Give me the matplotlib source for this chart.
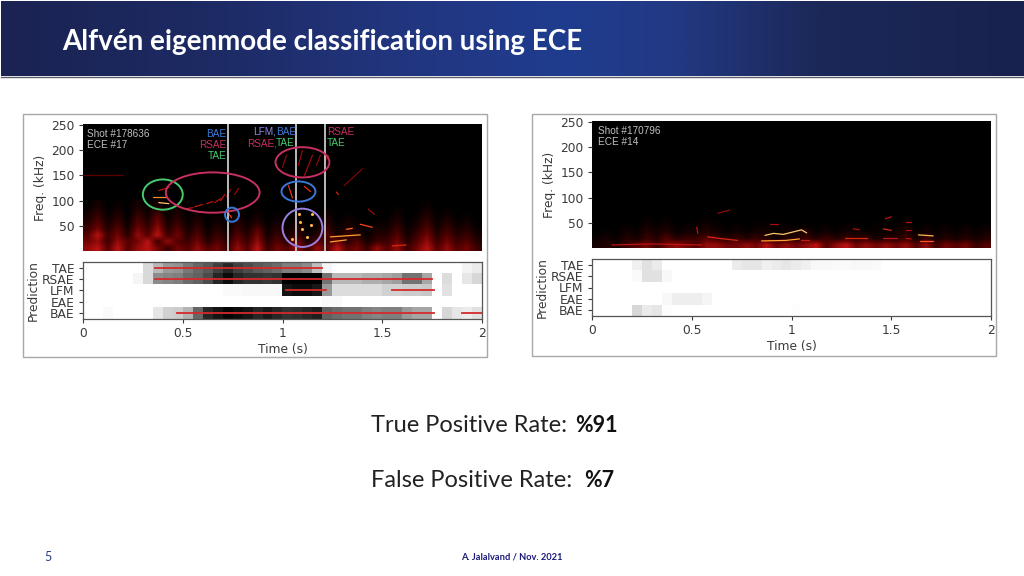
"""
Alfven eigenmode classification slide: two spectrogram / prediction panels
"""

import numpy as np
import matplotlib
matplotlib.use('Agg')  # Non-interactive backend
import matplotlib.pyplot as plt
from matplotlib.colors import LinearSegmentedColormap
from matplotlib.patches import Ellipse, Rectangle

W, H = 1024, 576
TEXT_DARK = '#3a3a3a'
BLUE, CRIMSON, GREEN, PURPLE = '#3a78d8', '#c8305f', '#46cc6e', '#9a80e0'

mode_labels = ['TAE', 'RSAE', 'LFM', 'EAE', 'BAE']
time_ticks = [0, 0.5, 1, 1.5, 2]
time_tick_labels = ['0', '0.5', '1', '1.5', '2']
freq_ticks = [50, 100, 150, 200, 250]

# Prediction probability per 0.05 s, one row per mode
left_tae = [0, 0, 0, 0, 0, 0, .15, .28, .40, .42,
            .52, .60, .65, .75, .85, .75, .70, .65, .62, .58,
            .50, .50, .45, .25, .04, 0, 0, 0, 0, 0,
            0, 0, 0, 0, 0, 0, 0, 0, .05, .08]
left_rsae = [0, 0, 0, 0, 0, .04, .15, .45, .48, .50,
             .58, .62, .70, .85, .95, .85, .80, .80, .78, .80,
             1, 1, 1, 1, .55, .28, .28, .28, .32, .32,
             .35, .38, .55, .55, .35, 0, .14, 0, .10, .16]
left_lfm = [0, 0, 0, 0, 0, 0, 0, 0, 0, 0,
            0, 0, 0, 0, .02, .02, .03, .03, .03, .03,
            .92, .95, .95, .90, .40, .14, .14, .14, .14, .14,
            .18, .18, .20, .20, .22, 0, .12, 0, 0, 0]
left_eae = [0, 0, 0, 0, 0, 0, 0, 0, 0, 0,
            0, 0, 0, 0, 0, 0, 0, 0, 0, 0,
            0, 0, 0, 0, .02, .02, 0, 0, 0, 0,
            0, 0, 0, 0, 0, 0, 0, 0, 0, 0]
left_bae = [0, 0, .02, 0, 0, 0, 0, .10, .18, .20,
            .30, .60, .85, .92, .98, .95, .92, .85, .90, .85,
            .80, .82, .85, .88, .62, .58, .55, .55, .50, .48,
            .50, .50, .40, .35, .35, 0, .16, .10, .08, .12]

right_tae = [0, 0, 0, 0, .06, .12, .08, 0, 0, 0,
             0, 0, 0, 0, .08, .10, .10, .06, .08, .10,
             .08, .06, .03, .03, .02, .02, .03, .03, .02, 0,
             0, 0, 0, 0, 0, 0, 0, 0, 0, 0]
right_rsae = [0, 0, 0, 0, .02, .12, .12, .03, 0, 0,
              0, 0, 0, 0, 0, 0, 0, 0, 0, 0,
              0, 0, 0, 0, 0, 0, 0, 0, 0, 0,
              0, 0, 0, 0, 0, 0, 0, 0, 0, 0]
right_lfm = [0] * 40
right_eae = [0, 0, 0, 0, 0, 0, 0, .03, .07, .07,
             .07, .04, 0, 0, 0, 0, 0, 0, 0, 0,
             0, 0, 0, 0, 0, 0, 0, 0, 0, 0,
             0, 0, 0, 0, 0, 0, 0, 0, 0, 0]
right_bae = [0, 0, 0, 0, .16, .08, .10, .01, 0, 0,
             0, 0, 0, 0, 0, 0, 0, 0, 0, 0,
             .01, 0, 0, 0, 0, 0, 0, 0, 0, 0,
             0, 0, 0, 0, 0, 0, 0, 0, 0, 0]

# Red marks along the predictions: (mode row, start time, end time)
left_truth = [(0, 0.36, 1.20), (1, 0.36, 1.75), (2, 1.02, 1.22),
              (2, 1.55, 1.76), (4, 0.47, 1.76), (4, 1.90, 2.0)]

# Spectrogram background, read as levels 0-9 per 0.05 s and 12.5 kHz, lowest band first
left_floor = ['8969689757686758695768586967586857968675',
              '7858679586574647584647365746355746857564',
              '6957486957463536473535246354244635746453',
              '5746375846352425362424135243133524635342',
              '4635264735241314241313024132022413524231',
              '3524153624130203130202013021011302413120',
              '2413042413020102020101002010000201302010',
              '1302031302010001010000001000000100201000']
right_floor = ['3435675787688778797878968978787868576756',
               '2324354645565454543445454545344535343434',
               '1213243423343232332334232332223423232323',
               '1112132312232121221212121221212312121212',
               '0101021201121010110101010110101201010101',
               '0000010100010000001000010001000100100100']

# Ridges in the spectrograms: (times, frequencies, level)
left_ridges = [
    ([0.0, 0.20], [150, 150], 0.2),
    ([0.35, 0.42], [108, 108], 0.75), ([0.38, 0.43], [96, 94], 0.9),
    ([0.38, 0.43], [120, 126], 0.42), ([0.52, 0.55], [84, 86], 0.42),
    ([0.56, 0.60], [88, 92], 0.42), ([0.62, 0.65], [94, 98], 0.42),
    ([0.66, 0.69], [96, 104], 0.42), ([0.69, 0.71], [100, 112], 0.42),
    ([0.72, 0.74], [108, 122], 0.35), ([0.76, 0.78], [112, 124], 0.35),
    ([0.73, 0.745], [74, 66], 0.6),
    ([1.00, 1.02], [166, 190], 0.32), ([1.08, 1.10], [170, 200], 0.32),
    ([1.11, 1.15], [150, 190], 0.35), ([1.17, 1.19], [170, 190], 0.32),
    ([1.21, 1.23], [175, 190], 0.28),
    ([1.03, 1.05], [130, 105], 0.55), ([1.11, 1.14], [128, 118], 0.55),
    ([1.27, 1.28], [117, 112], 0.5), ([1.31, 1.40], [130, 163], 0.28),
    ([1.24, 1.39], [28, 32], 0.8), ([1.32, 1.35], [43, 45], 0.7),
    ([1.39, 1.45], [53, 47], 0.62), ([1.43, 1.46], [83, 73], 0.35),
    ([1.24, 1.32], [18, 22], 0.8), ([1.55, 1.62], [10, 12], 0.5),
]
left_spots_t = [1.09, 1.10, 1.143, 1.125, 1.05, 1.15, 1.085]
left_spots_f = [57, 43, 51, 28, 23, 73, 73]

right_ridges = [
    ([0.10, 0.30, 0.55], [6, 8, 6], 0.42),
    ([0.58, 0.66, 0.73], [22, 18, 15], 0.5), ([0.63, 0.69], [69, 75], 0.32),
    ([0.525, 0.53], [41, 29], 0.42),
    ([0.867, 0.91, 0.959, 1.05, 1.076], [25, 29, 27, 36, 30], 0.9),
    ([0.85, 0.97, 1.04], [14, 15, 18], 0.8), ([0.89, 0.93], [47, 47], 0.38),
    ([1.05, 1.09], [16, 16], 0.45), ([1.27, 1.376], [20, 20], 0.5),
    ([1.31, 1.34], [38, 36], 0.38), ([1.46, 1.50], [38, 35], 0.5),
    ([1.47, 1.50], [58, 62], 0.42), ([1.46, 1.53], [20, 20], 0.42),
    ([1.575, 1.60], [52, 52], 0.42), ([1.575, 1.60], [36, 36], 0.38),
    ([1.575, 1.60], [19, 18], 0.42),
    ([1.636, 1.71], [26, 24], 0.85), ([1.645, 1.71], [13, 13], 0.65),
]

# Rings on the left spectrogram: (time, freq, width, height, colour)
left_rings = [(0.40, 112, 0.20, 60, GREEN), (0.65, 116, 0.47, 80, CRIMSON),
              (0.747, 72, 0.07, 28, BLUE), (1.10, 176, 0.27, 60, CRIMSON),
              (1.08, 118, 0.17, 40, BLUE), (1.10, 46, 0.20, 76, PURPLE)]
left_cuts = [0.727, 1.07, 1.213]

header_stops = [(0, '#1a2352'), (0.2, '#1d2a63'), (0.4, '#223680'), (0.55, '#1f3c8e'),
                (0.65, '#233a85'), (0.8, '#1b2858'), (1, '#18224e')]

spec_cmap = LinearSegmentedColormap.from_list(
    'spec', ['#000000', '#5a0000', '#b01010', '#ff3a10', '#ffa030', '#fff0a0'])


def ax_px(left, top, right, bottom, **kwargs):
    """Axes from pixel edges, y counted from the top of the slide"""
    return plt.gcf().add_axes([left / W, 1 - bottom / H, (right - left) / W, (bottom - top) / H], **kwargs)


def floor_grid(rows):
    grid = np.array([[int(c) for c in row] for row in rows], dtype=float)
    return (grid / 9) ** 2 * 0.42


def draw_panel(left, top, floor, ridges, preds, truth=()):
    right = left + 399
    spec = ax_px(left, top, right, top + 127)
    spec.set_facecolor('black')
    spec.imshow(floor_grid(floor), extent=(0, 2, 0, 12.5 * len(floor)), origin='lower', aspect='auto',
                cmap=spec_cmap, vmin=0, vmax=1, interpolation='bilinear')
    for times, freqs, level in ridges:
        spec.plot(times, freqs, color=spec_cmap(level), lw=0.9, solid_capstyle='round')
    spec.set_xlim(0, 2)
    spec.set_ylim(0, 252)
    spec.set_xticks([])
    spec.set_yticks(freq_ticks)
    spec.tick_params(axis='y', length=3, width=0.8, labelsize=8.8, labelcolor=TEXT_DARK, color=TEXT_DARK, pad=3)
    spec.set_ylabel('Freq. (kHz)', fontsize=8.8, color=TEXT_DARK, labelpad=3)
    for side in spec.spines.values():
        side.set_visible(False)

    pred = ax_px(left, top + 138, right, top + 195)
    pred.imshow(np.array(preds), extent=(0, 2, 4.5, -0.5), aspect='auto', cmap='gray_r',
                vmin=0, vmax=1, interpolation='nearest')
    for row, start, end in truth:
        pred.plot([start, end], [row, row], color='#d42a2a', lw=1.3)
    pred.set_xlim(0, 2)
    pred.set_ylim(4.5, -0.5)
    pred.set_xticks(time_ticks)
    pred.set_xticklabels(time_tick_labels)
    pred.set_yticks(range(len(mode_labels)))
    pred.set_yticklabels(mode_labels)
    pred.tick_params(length=3, width=0.8, labelsize=8.8, labelcolor=TEXT_DARK, color=TEXT_DARK, pad=3)
    pred.set_xlabel('Time (s)', fontsize=8.8, color=TEXT_DARK, labelpad=2)
    pred.set_ylabel('Prediction', fontsize=8.8, color=TEXT_DARK, labelpad=2)
    for side in pred.spines.values():
        side.set_color('#555555')
        side.set_linewidth(0.9)
    return spec, pred


fig = plt.figure(figsize=(W / 100, H / 100), dpi=100, facecolor='white')

# Slide furniture, drawn in pixel coordinates
slide = fig.add_axes([0, 0, 1, 1], zorder=0)
slide.axis('off')
header_cmap = LinearSegmentedColormap.from_list('header', header_stops)
slide.imshow(np.linspace(0, 1, 512).reshape(1, -1), extent=(1, W, 76, 1), aspect='auto', cmap=header_cmap)
slide.set_xlim(0, W)
slide.set_ylim(H, 0)
slide.plot([1, W], [76.5, 76.5], color='#5d5d70', lw=1)
for x0, y0, x1, y1 in [(23, 114, 487, 357), (532, 114, 996, 356)]:
    slide.add_patch(Rectangle((x0 + 1, y0 + 1), x1 - x0, y1 - y0, fc='#e4e4e4', ec='none'))
    slide.add_patch(Rectangle((x0, y0), x1 - x0, y1 - y0, fc='white', ec='#a8a8a8', lw=1))

slide.text(62, 42, 'Alfvén eigenmode classification using ECE', color='white', fontsize=20,
           fontweight='bold', family='Lato', va='center', ha='left')
slide.text(371, 432, 'True Positive Rate:', color='#222222', fontsize=17, family='Lato', va='baseline')
slide.text(575, 432, '%91', color='#111111', fontsize=15.5, family='Lato', fontweight='bold', va='baseline')
slide.text(371, 487, 'False Positive Rate:', color='#222222', fontsize=17, family='Lato', va='baseline')
slide.text(584, 487, '%7', color='#111111', fontsize=15.5, family='Lato', fontweight='bold', va='baseline')
slide.text(44, 561, '5', color='#2a3a8a', fontsize=9, family='Lato', va='baseline')
slide.text(512, 559, 'A. Jalalvand / Nov. 2021', color='#1a1a78', fontsize=6.7, family='Lato',
           fontweight='bold', ha='center', va='baseline')

left_spec, left_pred = draw_panel(83, 124, left_floor, left_ridges,
                                  [left_tae, left_rsae, left_lfm, left_eae, left_bae], left_truth)
right_spec, right_pred = draw_panel(592, 121, right_floor, right_ridges,
                                    [right_tae, right_rsae, right_lfm, right_eae, right_bae])

left_spec.scatter(left_spots_t, left_spots_f, s=5, color=spec_cmap(0.85), linewidths=0, zorder=3)
for t_cut in left_cuts:
    left_spec.axvline(t_cut, color='#c8c8c8', lw=1.3, zorder=4)
for t0, f0, width, height, colour in left_rings:
    left_spec.add_patch(Ellipse((t0, f0), width, height, fc='none', ec=colour, lw=1.4, zorder=5))

# Labels written on the spectrograms
notes = fig.add_axes([0, 0, 1, 1], zorder=5)
notes.set_xlim(0, W)
notes.set_ylim(H, 0)
notes.axis('off')
note_font = dict(fontsize=7.2, family='Liberation Sans', va='center')
notes.text(87, 134, 'Shot #178636', color='#c0c0c0', **note_font)
notes.text(87, 145, 'ECE #17', color='#c0c0c0', **note_font)
notes.text(226, 134, 'BAE', color=BLUE, ha='right', **note_font)
notes.text(226, 145, 'RSAE', color=CRIMSON, ha='right', **note_font)
notes.text(226, 156, 'TAE', color=GREEN, ha='right', **note_font)
notes.text(253, 132, 'LFM,', color='#8a8ae6', **note_font)
notes.text(276, 132, 'BAE', color=BLUE, **note_font)
notes.text(247, 143, 'RSAE,', color=CRIMSON, **note_font)
notes.text(276, 143, 'TAE', color=GREEN, **note_font)
notes.text(327, 132, 'RSAE', color=CRIMSON, **note_font)
notes.text(327, 143, 'TAE', color=GREEN, **note_font)
notes.text(598, 131, 'Shot #170796', color='#c0c0c0', **note_font)
notes.text(598, 142, 'ECE #14', color='#c0c0c0', **note_font)

plt.savefig('out.png', dpi=100)
plt.close()
